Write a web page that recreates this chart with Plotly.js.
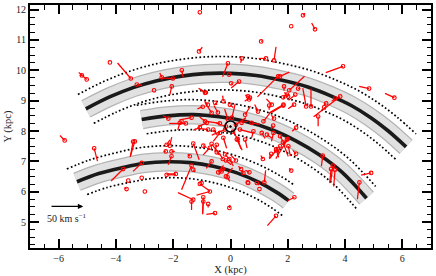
<!DOCTYPE html>
<html><head><meta charset="utf-8">
<script src="https://cdn.plot.ly/plotly-3.0.1.min.js"></script>
<style>html,body{margin:0;padding:0;background:#fff}#plot{width:436px;height:276px}</style>
</head><body><div id="plot"></div>
<script>
// Spiral arm centre lines (kpc)
const perseusX = [-5.05,-4.2,-3.4,-2.6,-1.77,-0.9,0,0.9,1.8,2.7,3.5,4.2,4.9,5.5,6.13];
const perseusY = [8.73,9.13,9.43,9.65,9.80,9.89,9.90,9.83,9.67,9.45,9.16,8.85,8.44,8.01,7.48];
const localX = [-3.1,-2.2,-1.3,-0.4,0.5,1.4,2.3,3.1,3.9,4.75];
const localY = [8.38,8.50,8.54,8.47,8.32,8.06,7.67,7.22,6.64,5.79];
const sagX = [-5.36,-4.6,-3.8,-3.0,-2.2,-1.4,-0.6,0.2,1.0,1.6,2.03];
const sagY = [6.33,6.60,6.79,6.94,6.99,6.96,6.84,6.63,6.31,5.99,5.71];
// Arm widths (kpc) for dotted boundaries
const perseusWidth = 0.55, localWidth = 0.5, sagWidth = 0.55;

// Maser positions (kpc) and peculiar motions (km/s)
const maserX = [-1.07,-1.10,-4.21,-3.48,-5.02,-5.19,-3.27,-2.67,-2.40,-2.01,-1.70,-2.05,-0.86,
 2.53,2.12,2.95,1.07,1.52,1.24,0.40,-0.09,-0.05,0.30,0.02,1.73,1.66,2.05,1.87,2.36,2.64,2.81,3.93,4.84,5.72,3.83,3.65,3.34,3.27,3.06,1.84,2.22,2.01,1.84,1.35,0.61,0.65,2.29,1.52,1.49,
 -0.66,-0.79,-0.97,-0.25,-0.02,-0.54,-0.83,-0.89,-0.60,-0.37,-0.25,-0.78,-1.36,-1.71,0.39,0.74,1.15,0.80,1.09,1.27,1.50,1.73,1.97,1.73,2.02,0.22,-0.72,1.44,1.85,1.97,2.26,0.68,-0.89,-0.16,0.19,0.09,-0.09,-0.19,0.33,0.05,-0.37,-2.17,-1.56,-1.77,-0.44,-1.07,0.51,0.96,0.51,
 -3.34,-2.23,-2.26,-2.06,-2.06,-3.10,-3.10,-2.99,-2.23,-1.30,-1.42,-1.36,-1.30,-0.66,-0.48,-0.19,-0.31,-1.01,-0.72,-1.30,-1.36,-0.95,-0.54,-0.04,0.45,0.62,-0.43,-0.16,0.92,
 -5.79,-4.76,-3.40,-3.75,-3.63,-3.57,-2.12,-1.91,-1.07,-0.95,-0.78,-0.95,-0.66,-0.48,
 0.25,-0.27,-0.16,-0.04,-0.27,-0.10,0.37,0.66,0.19,0.60,1.01,1.18,1.13,1.42,1.59,1.59,1.83,2.00,2.12,2.29,2.23,1.59,3.22,3.51,3.57,3.65,4.91,4.50];
const maserY = [11.91,10.62,10.26,9.73,9.70,9.83,9.53,9.34,9.77,9.73,10.0,9.47,9.27,
 11.81,11.45,11.35,10.95,10.33,10.39,10.39,10.23,9.86,9.63,9.57,9.80,9.80,9.34,9.47,9.40,8.81,8.81,10.13,9.40,9.10,9.14,9.07,8.91,8.78,8.48,8.84,8.87,9.14,9.11,8.84,9.14,9.04,8.11,8.41,8.18,
 8.60,8.87,8.80,8.98,8.87,8.93,8.27,8.32,8.05,7.94,7.78,8.05,8.44,8.32,8.27,8.27,8.32,7.99,7.94,7.88,7.94,7.83,7.72,7.50,7.50,7.72,7.45,8.87,8.87,9.20,9.20,9.10,9.26,8.15,8.21,7.98,8.38,8.05,8.05,8.44,8.25,8.41,8.25,8.27,8.61,8.12,8.54,8.64,7.72,
 7.66,7.55,7.33,7.33,7.17,6.95,6.46,6.01,6.56,7.59,7.17,6.86,6.73,7.00,7.55,7.23,6.67,6.29,6.01,5.74,5.68,5.68,5.30,5.47,6.62,6.29,6.64,6.51,6.29,
 7.69,7.43,7.65,6.75,6.09,6.37,7.52,6.59,6.26,5.82,5.60,7.52,7.58,7.30,
 7.74,7.08,7.03,7.08,6.75,6.48,6.75,6.64,7.03,6.31,6.09,6.31,7.08,7.25,7.41,7.36,7.63,7.74,6.70,7.25,5.82,5.21,7.19,6.75,6.86,6.73,6.62,6.31];
const maserVx = [0,5,0,-20,-12,-3,8,0,-3,-17,2,-3,-11,
 3,0,-5,2,3,-11,-2,-8,0,-12,2,14,-31,23,0,3,-5,0,-26,-15,-14,-40,-5,-4,2,0,-18,-9,-3,3,0,-4,0,-6,-4,-3,
 -10,-5,-8,-1,5,3,-12,-8,6,-10,5,-16,-18,0,10,12,10,-3,5,8,-3,6,-6,-4,3,8,-10,-8,-22,-4,-10,-8,-8,-15,15,10,-5,-20,20,5,-20,-8,-25,-3,-6,-10,8,-5,3,
 -7,5,-3,5,-5,-13,0,0,14,9,-3,-15,3,-8,-3,12,3,0,-20,-23,0,-1,-13,1,-3,0,8,10,3,
 -7,5,-4,-18,-3,0,3,-14,15,-1,0,5,12,4,
 5,-5,8,6,-6,3,-4,-6,-8,0,0,2,-3,-3,4,-10,8,-18,-3,-5,-10,-13,-2,-2,-3,-2,-15,-3];
const maserVy = [0,6,0,22,10,0,-1,0,6,1,-10,-12,6,
 3,0,9,1,19,0,-6,-19,0,-9,-2,6,-29,20,-6,0,26,25,-9,3,6,-29,-4,-3,-3,-14,-10,-6,2,3,-6,2,0,-5,5,-5,
 15,5,-3,8,-4,-3,-5,6,-8,-12,-15,2,-3,0,3,-2,12,-10,-8,-5,-12,-10,-8,-12,-14,-15,-10,8,-12,3,-8,-5,5,5,10,-15,15,-8,-5,20,3,4,0,-10,10,-4,12,10,-12,
 -22,7,0,0,-12,-12,0,0,0,-23,3,-34,-3,-10,-10,-12,5,0,-5,10,-12,-17,-2,4,3,0,10,12,-3,
 7,-18,-20,-17,2,0,12,0,-10,-24,-5,-3,-15,-4,
 -14,8,-6,-10,-8,-6,4,3,8,0,0,17,5,-6,-12,-12,-20,-28,3,5,-5,-14,-15,-20,-22,-24,-3,-24];

// Sun position and reference vector
const sunX = [0], sunY = [8.15];
const refSpeed = 50;            // km/s
const refLabel = '50 km s<sup>\u22121</sup>';

// ---- drawing ----
const kpcPerKms = 0.0232;       // vector scale
function radialOffset(xs, ys, d){
  const ox=[], oy=[];
  for(let i=0;i<xs.length;i++){
    const r=Math.hypot(xs[i],ys[i]); const f=(r+d)/r;
    ox.push(xs[i]*f); oy.push(ys[i]*f);
  }
  return [ox,oy];
}
const traces=[];
const arms=[[perseusX,perseusY,perseusWidth],[localX,localY,localWidth],[sagX,sagY,sagWidth]];
arms.forEach(([ax,ay,w])=>{
  [w,-w].forEach(d=>{
    const [ox,oy]=radialOffset(ax,ay,d);
    traces.push({x:ox,y:oy,mode:'lines',line:{color:'#000',width:1.7,dash:'1.7px,2.3px',shape:'spline'},hoverinfo:'skip'});
  });
  traces.push({x:ax,y:ay,mode:'lines',line:{color:'#b4b4b4',width:19.5,shape:'spline'},hoverinfo:'skip'});
  traces.push({x:ax,y:ay,mode:'lines',line:{color:'#e1e1e1',width:17,shape:'spline'},hoverinfo:'skip'});
  traces.push({x:ax,y:ay,mode:'lines',line:{color:'#1a1a1a',width:3.6,shape:'spline'},hoverinfo:'skip'});
});
const vx=[], vy=[];
for(let i=0;i<maserX.length;i++){
  vx.push(maserX[i], maserX[i]+maserVx[i]*kpcPerKms, null);
  vy.push(maserY[i], maserY[i]+maserVy[i]*kpcPerKms, null);
}
traces.push({x:vx,y:vy,mode:'lines',line:{color:'#ff0000',width:1.25},hoverinfo:'skip'});
traces.push({x:maserX,y:maserY,mode:'markers',marker:{symbol:'circle-open',size:3.6,color:'#ff0000',line:{width:1.1,color:'#ff0000'}},hoverinfo:'skip'});
traces.push({x:sunX,y:sunY,mode:'markers',marker:{symbol:'circle-open-dot',size:11,color:'#000',line:{width:1.5,color:'#000'}},hoverinfo:'skip'});

const refX0=-6.3, refY0=5.52;
const axisCommon={showline:true,linewidth:2,linecolor:'#000',mirror:'allticks',ticks:'inside',ticklen:9,tickwidth:2,tickcolor:'#000',
  showgrid:false,zeroline:false,tickfont:{size:10,color:'#222'}};
const layout={
  width:436,height:276,margin:{l:30,r:5,t:5,b:28},
  paper_bgcolor:'#fff',plot_bgcolor:'#fff',showlegend:false,
  font:{family:'"Liberation Serif", "DejaVu Serif", serif',color:'#222'},
  xaxis:Object.assign({},axisCommon,{range:[-7,7],dtick:2,tick0:0,
    minor:{dtick:0.5,ticklen:4.5,tickwidth:1,tickcolor:'#000',ticks:'inside',showgrid:false},
    title:{text:'X (kpc)',font:{size:10.5},standoff:3}}),
  yaxis:Object.assign({},axisCommon,{range:[4.15,12.15],dtick:1,tick0:0,
    minor:{dtick:0.25,ticklen:4.5,tickwidth:1,tickcolor:'#000',ticks:'inside',showgrid:false},
    title:{text:'Y (kpc)',font:{size:10.5},standoff:2}}),
  annotations:[
    {x:refX0+refSpeed*kpcPerKms,y:refY0,ax:refX0,ay:refY0,axref:'x',ayref:'y',xref:'x',yref:'y',text:'',showarrow:true,arrowhead:2,arrowsize:0.9,arrowwidth:1.2,arrowcolor:'#000'},
    {x:refX0+refSpeed*kpcPerKms/2,y:refY0-0.38,xref:'x',yref:'y',text:refLabel,showarrow:false,font:{size:10,color:'#222'}}
  ]
};
Plotly.newPlot('plot',traces,layout,{staticPlot:true,displayModeBar:false});
</script>
</body></html>
